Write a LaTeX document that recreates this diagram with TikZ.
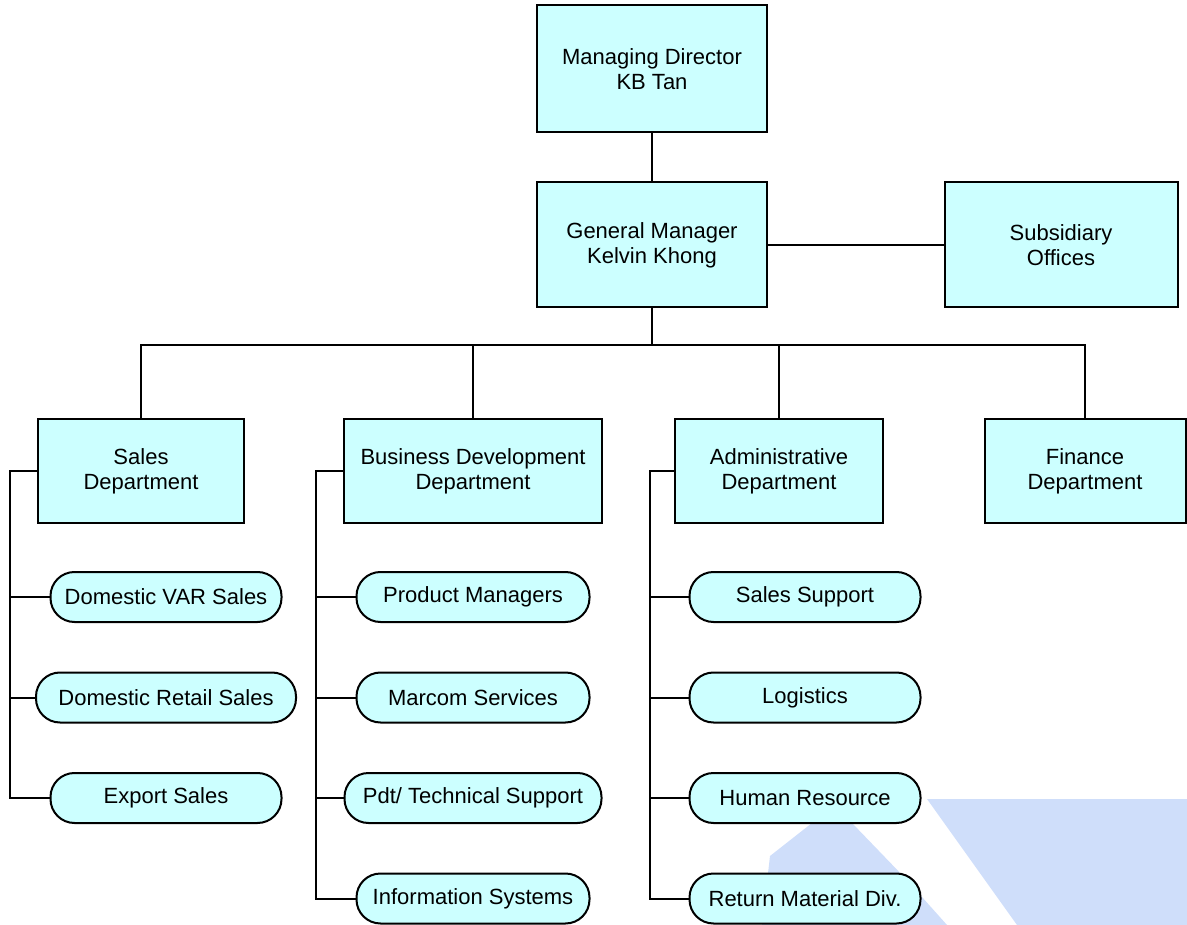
\documentclass[tikz,border=0pt]{standalone}
\usepackage{fontspec}
\setmainfont{Liberation Sans}
\usetikzlibrary{positioning}
\definecolor{unitcyan}{RGB}{204,255,255}
\definecolor{markblue}{RGB}{207,222,250}
\tikzset{
  every node/.style={font=\fontsize{22}{25}\selectfont, inner sep=2pt}, % Arial-like text
  unit/.style={draw, fill=unitcyan, align=center, minimum height=103}, % square boxes
  team/.style={draw, fill=unitcyan, rounded corners=24, minimum height=50, minimum width=231}, % rounded boxes
  node distance=100.5pt, % spacing of the rounded boxes. Change if necessary.
}

\begin{document}
\begin{tikzpicture}[x=1pt, y=-1pt, on grid, line width=2pt]
  \useasboundingbox (0,0) rectangle (1187,925);

  % faint logo in the corner
  \fill[markblue] (927,799) -- (1187,799) -- (1187,925) -- (1017,925) -- cycle;
  \fill[markblue] (812,823) -- (852,823) -- (905,878) -- (947,925) -- (762,925) -- (770,856) -- cycle;

  \node[unit, minimum width=230, minimum height=127] (md) at (652,69) {Managing Director\\KB Tan};
  \node[unit, minimum width=230, minimum height=125] (gm) at (652,245) {General Manager\\Kelvin Khong};
  \node[unit, minimum width=233, minimum height=125] (sub) at (1061,245) {Subsidiary\\Offices};

  \node[unit, minimum width=206] (sales) at (141,471) {Sales\\Department};
  \node[unit, minimum width=258] (bd) at (473,471) {Business Development\\Department};
  \node[unit, minimum width=208] (admin) at (779,471) {Administrative\\Department};
  \node[unit, minimum width=201] (finance) at (1085,471) {Finance\\Department};

  \node[team] (var) at (166,597) {Domestic VAR Sales};
  \node[team, below=of var, minimum width=260] (retail) {Domestic Retail Sales};
  \node[team, below=of retail] (export) {Export Sales};

  \node[team, minimum width=233] (pm) at (473,597) {Product Managers};
  \node[team, below=of pm, minimum width=233] (marcom) {Marcom Services};
  \node[team, below=of marcom, minimum width=257] (tech) {Pdt/ Technical Support};
  \node[team, below=of tech, minimum width=233] (is) {Information Systems};

  \node[team] (support) at (805,597) {Sales Support};
  \node[team, below=of support] (logistics) {Logistics};
  \node[team, below=of logistics] (hr) {Human Resource};
  \node[team, below=of hr] (rma) {Return Material Div.};

  \draw (md) -- (gm);
  \draw (gm) -- (sub);
  \foreach \d in {sales, bd, admin, finance}
    \draw (gm.south) -- ++(0,37) -| (\d.north);

  \foreach \t in {var, retail, export}
    \draw (sales.west) -- ++(-27,0) |- (\t.west);
  \foreach \t in {pm, marcom, tech, is}
    \draw (bd.west) -- ++(-27,0) |- (\t.west);
  \foreach \t in {support, logistics, hr, rma}
    \draw (admin.west) -- ++(-24,0) |- (\t.west);
\end{tikzpicture}
\end{document}
